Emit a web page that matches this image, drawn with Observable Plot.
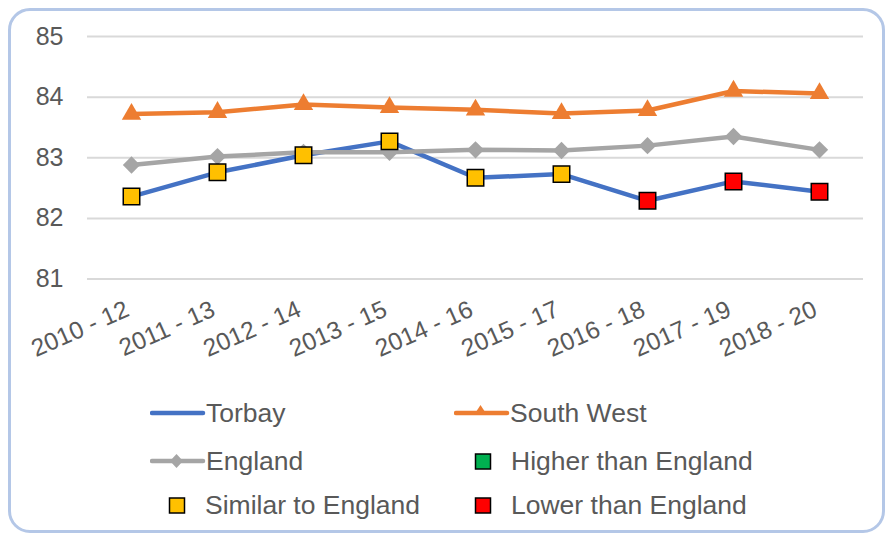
<!DOCTYPE html>
<html><head><meta charset="utf-8">
<script src="https://cdn.jsdelivr.net/npm/d3@7"></script>
<script src="https://cdn.jsdelivr.net/npm/@observablehq/plot@0.6"></script>
<style>
body{margin:0;background:#fff;font-family:"Liberation Sans",Arial,sans-serif;}
#wrap{position:relative;width:886px;height:534px;overflow:hidden;}
#frame{position:absolute;left:8px;top:8px;width:877px;height:525px;box-sizing:border-box;border:3px solid #B4C7E7;border-radius:22px;}
#chart{position:absolute;left:0;top:0;}
#legend{position:absolute;left:0;top:385px;width:886px;height:149px;}
.item{position:absolute;display:flex;align-items:center;color:#595959;font-size:26.5px;white-space:nowrap;height:30px;}
.item svg{display:block;}
</style></head>
<body><div id="wrap"><div id="frame"></div><div id="chart"></div><div id="legend"></div></div>
<script>
const periods = ["2010 - 12","2011 - 13","2012 - 14","2013 - 15","2014 - 16","2015 - 17","2016 - 18","2017 - 19","2018 - 20"];
const torbay = [82.36, 82.76, 83.04, 83.27, 82.67, 82.73, 82.29, 82.61, 82.44];
const southWest = [83.72, 83.75, 83.88, 83.83, 83.79, 83.73, 83.78, 84.10, 84.06];
const england = [82.88, 83.02, 83.09, 83.09, 83.13, 83.12, 83.20, 83.35, 83.13];
const torbayComparison = ["Similar","Similar","Similar","Similar","Similar","Similar","Lower","Lower","Lower"];
const yTicks = [81, 82, 83, 84, 85];

const colors = {torbay:"#4472C4", sw:"#ED7D31", eng:"#A5A5A5"};
const compColors = {Higher:"#00B050", Similar:"#FFC000", Lower:"#FF0000"};

const rows = periods.map((p, i) => ({period: p, torbay: torbay[i], sw: southWest[i], eng: england[i], comp: torbayComparison[i]}));

const H = 385;
const plot = Plot.plot({
  width: 886, height: H,
  marginLeft: 87, marginRight: 23, marginTop: 36, marginBottom: H - 278.5,
  x: {type: "point", domain: periods, padding: 0.5, label: null},
  y: {domain: [81, 85], label: null},
  style: {fontFamily: "'Liberation Sans', Arial, sans-serif", color: "#595959", background: "transparent", overflow: "visible"},
  marks: [
    Plot.gridY(yTicks, {stroke: "#D9D9D9", strokeOpacity: 1, strokeWidth: 2}),
    Plot.axisY(yTicks, {tickSize: 0, tickPadding: 24, fontSize: 25, fill: "#595959", tickFormat: d => String(d), label: null}),
    Plot.axisX({tickSize: 0, tickRotate: -24, tickPadding: 29, dx: -4, fontSize: 24.5, fill: "#595959", label: null}),
    Plot.lineY(rows, {x: "period", y: "torbay", stroke: colors.torbay, strokeWidth: 4.5}),
    Plot.lineY(rows, {x: "period", y: "sw", stroke: colors.sw, strokeWidth: 4.5}),
    Plot.lineY(rows, {x: "period", y: "eng", stroke: colors.eng, strokeWidth: 4.5}),
    Plot.dot(rows, {x: "period", y: "sw", symbol: "triangle", r: 7.2, fill: colors.sw}),
    Plot.dot(rows, {x: "period", y: "eng", symbol: "diamond2", r: 7.8, fill: colors.eng}),
    Plot.dot(rows, {x: "period", y: "torbay", symbol: "square", r: 9.3, fill: d => compColors[d.comp], stroke: "#000", strokeWidth: 1.5})
  ]
});
document.getElementById("chart").appendChild(plot);

// legend
const legendItems = [
  {label: "Torbay", kind: "line", color: colors.torbay, x: 150, y: 413},
  {label: "South West", kind: "line", color: colors.sw, marker: "triangle", x: 454, y: 413},
  {label: "England", kind: "line", color: colors.eng, marker: "diamond", x: 150, y: 461},
  {label: "Higher than England", kind: "box", color: compColors.Higher, x: 474, y: 461},
  {label: "Similar to England", kind: "box", color: compColors.Similar, x: 168, y: 505},
  {label: "Lower than England", kind: "box", color: compColors.Lower, x: 474, y: 505}
];
const legend = document.getElementById("legend");
for (const it of legendItems) {
  const div = document.createElement("div");
  div.className = "item";
  div.style.left = it.x + "px";
  div.style.top = (it.y - 385 - 15) + "px";
  let svg;
  if (it.kind === "line") {
    let m = "";
    if (it.marker === "triangle") m = `<path d="M26.5,7 L33,17 L20,17 Z" fill="${it.color}"/>`;
    if (it.marker === "diamond") m = `<path d="M26.5,8 L33,15 L26.5,22 L20,15 Z" fill="${it.color}"/>`;
    svg = `<svg width="56" height="30"><line x1="2" x2="53" y1="15" y2="15" stroke="${it.color}" stroke-width="4.5" stroke-linecap="round"/>${m}</svg>`;
  } else {
    svg = `<svg width="37" height="30"><rect x="1.5" y="8" width="15" height="15" fill="${it.color}" stroke="#000" stroke-width="1.5"/></svg>`;
  }
  div.innerHTML = svg + `<span>${it.label}</span>`;
  legend.appendChild(div);
}
</script>
</body></html>
